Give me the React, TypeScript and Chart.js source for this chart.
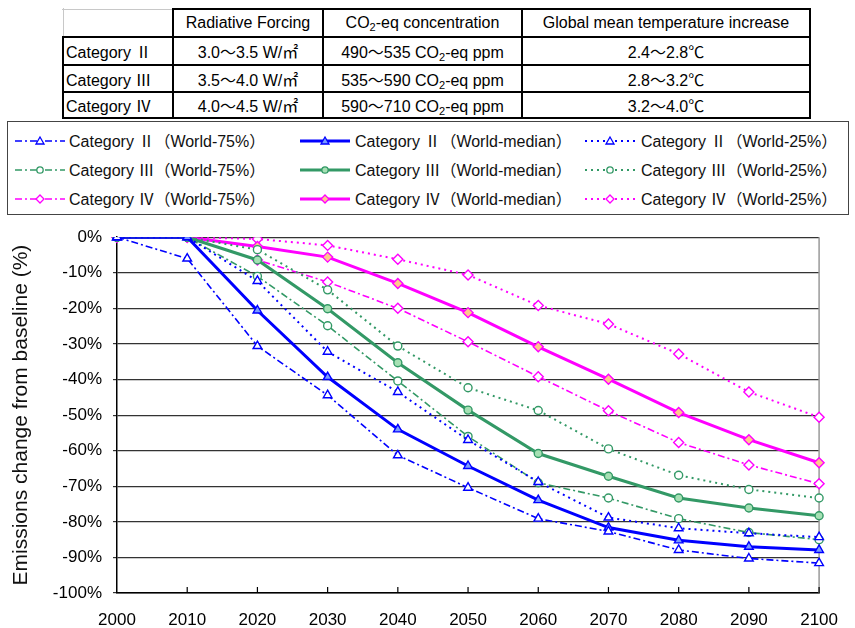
import React, { useEffect, useRef } from "react";
import { Chart, registerables } from "chart.js";

Chart.register(...registerables);

// ---- data ----
const years = ["2000", "2010", "2020", "2030", "2040", "2050", "2060", "2070", "2080", "2090", "2100"];

const cat2P75 = [0, -6, -30.6, -44.4, -61.3, -70.4, -79.1, -82.7, -87.9, -90.3, -91.6];
const cat2Median = [0, 0, -20.6, -39.3, -54.0, -64.3, -73.9, -81.6, -85.2, -87.0, -87.9];
const cat2P25 = [0, 0, -12.3, -32.2, -43.5, -57.0, -68.8, -78.8, -81.8, -83.2, -84.3];

const cat3P75 = [0, 0, -11.0, -24.9, -40.4, -56.0, -69.0, -73.3, -79.1, -83.0, -85.0];
const cat3Median = [0, 0, -6.4, -20.1, -35.3, -48.6, -60.8, -67.2, -73.3, -76.1, -78.3];
const cat3P25 = [0, 0, -3.5, -14.8, -30.6, -42.3, -48.7, -59.5, -66.9, -70.9, -73.3];

const cat4P75 = [0, 0, -6.4, -12.6, -20.0, -29.4, -39.2, -48.8, -57.7, -64.0, -69.3];
const cat4Median = [0, 0, -2.6, -5.6, -13.0, -21.2, -30.8, -39.9, -49.3, -56.9, -63.4];
const cat4P25 = [0, 0, -0.5, -2.3, -6.2, -10.6, -19.2, -24.4, -32.8, -43.5, -50.6];

const yMin = -100;
const yMax = 0;
const yStep = 10;

// ---- table contents ----
const categoryNames = ["Category Ⅱ", "Category Ⅲ", "Category Ⅳ"];
const forcingRanges = ["3.0～3.5 W/㎡", "3.5～4.0 W/㎡", "4.0～4.5 W/㎡"];
const concentrationRanges = ["490～535", "535～590", "590～710"];
const temperatureRanges = ["2.4～2.8℃", "2.8～3.2℃", "3.2～4.0℃"];

// ---- styles ----
const FONT = "'Liberation Sans', Arial, 'Noto Sans CJK JP', sans-serif";
const CJK_FONT = "'Noto Sans CJK JP', sans-serif";
const BLUE = "#0000ff";
const GREEN = "#339966";
const MAGENTA = "#ff00ff";

type Kind = "p75" | "median" | "p25";
const dashFor: Record<Kind, number[]> = { p75: [7, 3, 2, 3], median: [], p25: [2, 4] };
const widthFor: Record<Kind, number> = { p75: 1.6, median: 3, p25: 2 };
const kindLabel: Record<Kind, string> = { p75: "World-75%", median: "World-median", p25: "World-25%" };

type Marker = "triangle" | "circle" | "rectRot";

interface Series {
  cat: string;
  kind: Kind;
  data: number[];
  color: string;
  marker: Marker;
  fill: string;
}

const series: Series[] = [
  { cat: categoryNames[0], kind: "p75", data: cat2P75, color: BLUE, marker: "triangle", fill: "#ffffff" },
  { cat: categoryNames[0], kind: "median", data: cat2Median, color: BLUE, marker: "triangle", fill: "#7a9cff" },
  { cat: categoryNames[0], kind: "p25", data: cat2P25, color: BLUE, marker: "triangle", fill: "#ffffff" },
  { cat: categoryNames[1], kind: "p75", data: cat3P75, color: GREEN, marker: "circle", fill: "#ffffff" },
  { cat: categoryNames[1], kind: "median", data: cat3Median, color: GREEN, marker: "circle", fill: "#a6e0b4" },
  { cat: categoryNames[1], kind: "p25", data: cat3P25, color: GREEN, marker: "circle", fill: "#ffffff" },
  { cat: categoryNames[2], kind: "p75", data: cat4P75, color: MAGENTA, marker: "rectRot", fill: "#ffffff" },
  { cat: categoryNames[2], kind: "median", data: cat4Median, color: MAGENTA, marker: "rectRot", fill: "#ffc68c" },
  { cat: categoryNames[2], kind: "p25", data: cat4P25, color: MAGENTA, marker: "rectRot", fill: "#ffffff" },
];

const radiusFor: Record<Marker, number> = { triangle: 5, circle: 4, rectRot: 5 };

// Roman numerals are set in the CJK face so they come out full-width
function Mixed({ text }: { text: string }) {
  const parts = text.split(/([\u2160-\u217F])/);
  return (
    <span style={{ whiteSpace: "pre" }}>
      {parts.map((p, i) =>
        /^[\u2160-\u217F]$/.test(p) ? (
          <span key={i} style={{ fontFamily: CJK_FONT }}>
            {p}
          </span>
        ) : (
          <React.Fragment key={i}>{p}</React.Fragment>
        )
      )}
    </span>
  );
}

// frame on the right plus inward x tick marks
const framePlugin = {
  id: "frame",
  beforeDatasetsDraw(chart: any) {
    const { ctx, chartArea: a, scales } = chart;
    ctx.save();
    ctx.strokeStyle = "#999";
    ctx.lineWidth = 1.5;
    ctx.beginPath();
    ctx.moveTo(a.right, a.top);
    ctx.lineTo(a.right, a.bottom);
    ctx.stroke();
    ctx.strokeStyle = "#000";
    ctx.lineWidth = 1.2;
    ctx.beginPath();
    for (let i = 1; i < years.length; i++) {
      const x = scales.x.getPixelForValue(i);
      ctx.moveTo(x, a.bottom);
      ctx.lineTo(x, a.bottom - 6);
    }
    ctx.stroke();
    ctx.restore();
  },
};

function LineChart() {
  const ref = useRef<HTMLCanvasElement | null>(null);
  useEffect(() => {
    if (!ref.current) return;
    const chart = new Chart(ref.current, {
      type: "line",
      data: {
        labels: years,
        datasets: series.map((s) => ({
          label: `${s.cat}（${kindLabel[s.kind]}）`,
          data: s.data,
          borderColor: s.color,
          borderWidth: widthFor[s.kind],
          borderDash: dashFor[s.kind],
          pointStyle: s.marker,
          pointRadius: radiusFor[s.marker],
          pointBorderWidth: 1.4,
          pointBorderColor: s.color,
          pointBackgroundColor: s.fill,
          tension: 0,
          fill: false,
        })),
      },
      options: {
        animation: false,
        responsive: false,
        layout: { padding: { top: 11, right: 27, left: 0, bottom: 0 } },
        plugins: { legend: { display: false }, tooltip: { enabled: false } },
        scales: {
          x: {
            type: "category",
            offset: false,
            afterFit: (s: any) => {
              s.height = 35;
            },
            grid: { display: true, drawOnChartArea: false, drawTicks: false },
            border: { color: "#000", width: 1.5 },
            ticks: {
              autoSkip: false,
              maxRotation: 0,
              padding: 17,
              color: "#000",
              font: { family: FONT, size: 17 },
            },
          },
          y: {
            min: yMin,
            max: yMax,
            afterFit: (s: any) => {
              s.width = 117;
            },
            ticks: {
              stepSize: yStep,
              padding: 11,
              color: "#000",
              font: { family: FONT, size: 17 },
              callback: (v: any) => `${v}%`,
            },
            grid: { color: "#333", lineWidth: 1.2, tickLength: 4 },
            border: { color: "#000", width: 1.5 },
            title: {
              display: true,
              text: "Emissions change from baseline (%)",
              color: "#111",
              font: { family: FONT, size: 21 },
              padding: { top: 9, bottom: 0 },
            },
          },
        },
      },
      plugins: [framePlugin],
    } as any);
    return () => chart.destroy();
  }, []);
  return (
    <canvas
      ref={ref}
      width={855}
      height={412}
      style={{ position: "absolute", left: 0, top: 216, width: 855, height: 412 }}
    />
  );
}

// ---- scenario table ----
const colEdges = [63, 173, 323, 522, 810];
const rowEdges = [9, 37, 65, 92, 118];

function Co2() {
  return (
    <span>
      CO<sub style={{ fontSize: 11, verticalAlign: "-3px", lineHeight: 0 }}>2</sub>
    </span>
  );
}

function ScenarioTable() {
  const cells: { r: number; c: number; content: React.ReactNode; align: "left" | "center" }[] = [];
  cells.push({ r: 0, c: 1, content: "Radiative Forcing", align: "center" });
  cells.push({ r: 0, c: 2, content: (<span><Co2 />-eq concentration</span>), align: "center" });
  cells.push({ r: 0, c: 3, content: "Global mean temperature increase", align: "center" });
  categoryNames.forEach((name, i) => {
    cells.push({ r: i + 1, c: 0, content: <Mixed text={name} />, align: "left" });
    cells.push({ r: i + 1, c: 1, content: forcingRanges[i], align: "center" });
    cells.push({ r: i + 1, c: 2, content: (<span>{concentrationRanges[i]} <Co2 />-eq ppm</span>), align: "center" });
    cells.push({ r: i + 1, c: 3, content: temperatureRanges[i], align: "center" });
  });

  const lines: React.ReactNode[] = [];
  // horizontal rules
  rowEdges.forEach((y, ri) => {
    colEdges.slice(0, -1).forEach((x0, ci) => {
      const x1 = colEdges[ci + 1];
      const light = ri === 0 && ci === 0;
      lines.push(
        <div
          key={`h${ri}-${ci}`}
          style={{
            position: "absolute",
            left: x0 - 1,
            top: y - (light ? 0 : 1),
            width: x1 - x0 + 2,
            height: light ? 1 : 2,
            background: light ? "#c8c8c8" : "#000",
          }}
        />
      );
    });
  });
  // vertical rules
  colEdges.forEach((x, ci) => {
    rowEdges.slice(0, -1).forEach((y0, ri) => {
      const y1 = rowEdges[ri + 1];
      const light = ri === 0 && ci === 0;
      lines.push(
        <div
          key={`v${ci}-${ri}`}
          style={{
            position: "absolute",
            left: x - (light ? 0 : 1),
            top: y0 - 1,
            width: light ? 1 : 2,
            height: y1 - y0 + 2,
            background: light ? "#c8c8c8" : "#000",
          }}
        />
      );
    });
  });

  return (
    <>
      {cells.map((cell, k) => (
        <div
          key={k}
          style={{
            position: "absolute",
            left: colEdges[cell.c] + 1,
            top: rowEdges[cell.r] + 1,
            width: colEdges[cell.c + 1] - colEdges[cell.c] - 2,
            height: rowEdges[cell.r + 1] - rowEdges[cell.r] - 2,
            display: "flex",
            alignItems: "center",
            justifyContent: cell.align === "left" ? "flex-start" : "center",
            paddingLeft: cell.align === "left" ? 2 : 0,
            boxSizing: "border-box",
            fontFamily: FONT,
            fontSize: 16,
            color: "#000",
            whiteSpace: "nowrap",
          }}
        >
          <span>{cell.content}</span>
        </div>
      ))}
      {lines}
    </>
  );
}

// ---- legend ----
function LegendSample({ s }: { s: Series }) {
  const w = 50;
  const h = 14;
  const cx = w / 2;
  const cy = h / 2;
  let marker: React.ReactNode = null;
  if (s.marker === "triangle") {
    marker = <polygon points={`${cx},${cy - 4} ${cx + 4},${cy + 3} ${cx - 4},${cy + 3}`} fill={s.fill} stroke={s.color} strokeWidth={1.3} />;
  } else if (s.marker === "circle") {
    marker = <circle cx={cx} cy={cy} r={3.2} fill={s.fill} stroke={s.color} strokeWidth={1.3} />;
  } else {
    marker = <polygon points={`${cx},${cy - 4} ${cx + 4},${cy} ${cx},${cy + 4} ${cx - 4},${cy}`} fill={s.fill} stroke={s.color} strokeWidth={1.3} />;
  }
  return (
    <svg width={w} height={h} style={{ display: "block" }}>
      <line
        x1={0}
        y1={cy}
        x2={w}
        y2={cy}
        stroke={s.color}
        strokeWidth={widthFor[s.kind]}
        strokeDasharray={dashFor[s.kind].length ? dashFor[s.kind].join(" ") : undefined}
      />
      {marker}
    </svg>
  );
}

const legendSampleX = [15, 300, 585];
const legendTextX = [69, 355, 641];
const legendRowY = [141, 170, 199];

function Legend() {
  return (
    <>
      <div
        style={{
          position: "absolute",
          left: 7,
          top: 121,
          width: 842,
          height: 94,
          border: "1px solid #444",
          boxSizing: "border-box",
        }}
      />
      {series.map((s, i) => {
        const col = i % 3;
        const row = Math.floor(i / 3);
        return (
          <React.Fragment key={i}>
            <div style={{ position: "absolute", left: legendSampleX[col], top: legendRowY[row] - 7 }}>
              <LegendSample s={s} />
            </div>
            <div
              style={{
                position: "absolute",
                left: legendTextX[col],
                top: legendRowY[row] - 11,
                height: 20,
                lineHeight: "20px",
                fontFamily: FONT,
                fontSize: 16,
                color: "#111",
                whiteSpace: "nowrap",
              }}
            >
              <Mixed text={`${s.cat}（${kindLabel[s.kind]}）`} />
            </div>
          </React.Fragment>
        );
      })}
    </>
  );
}

export default function App() {
  return (
    <div
      style={{
        position: "absolute",
        left: 0,
        top: 0,
        width: 855,
        height: 628,
        background: "#fff",
        overflow: "hidden",
      }}
    >
      <ScenarioTable />
      <Legend />
      <LineChart />
    </div>
  );
}
